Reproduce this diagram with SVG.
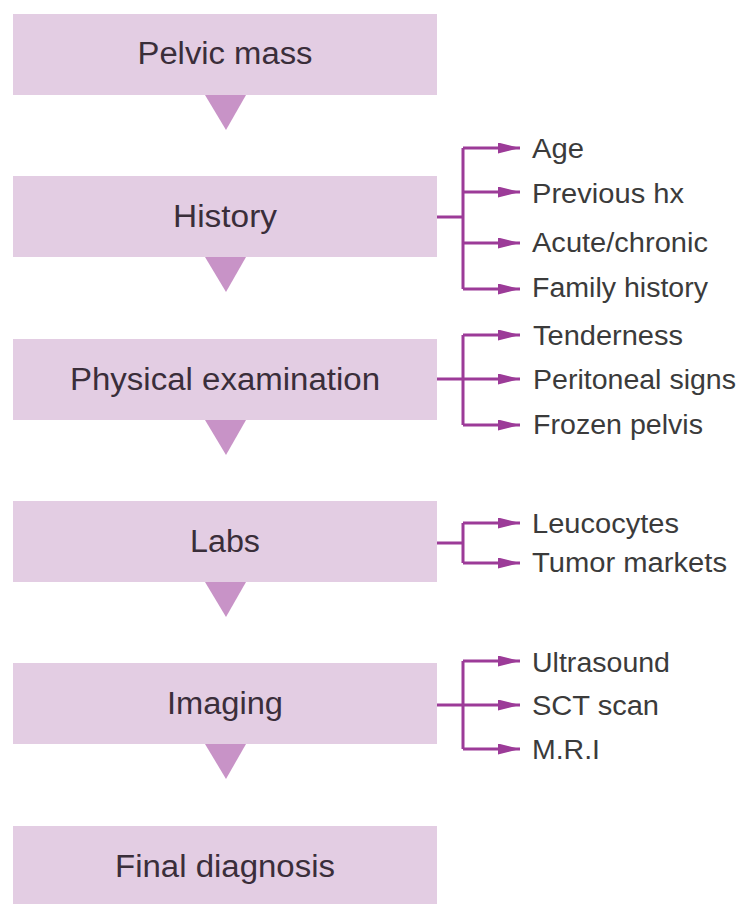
<svg xmlns="http://www.w3.org/2000/svg" width="743" height="904" viewBox="0 0 743 904">
<defs>
<style>
.box{fill:#e3cde3}
.tri{fill:#c893c7}
.main{font-family:"Liberation Sans",Arial,sans-serif;font-size:31px;fill:#3a2e3a;text-anchor:middle}
.lbl{font-family:"Liberation Sans",Arial,sans-serif;font-size:27px;fill:#3b3b3b}
.conn{fill:none;stroke:#9c3b98;stroke-width:3}
</style>
<marker id="ah" viewBox="0 0 22 11" refX="22" refY="5.5" markerWidth="22" markerHeight="11" markerUnits="userSpaceOnUse" orient="auto">
<path d="M0,0 L22,5.5 L0,11 Z" fill="#9c3b98"/>
</marker>
</defs>
<rect width="743" height="904" fill="#ffffff"/>
<g id="pelvic-mass">
<rect class="box" x="13" y="14" width="424" height="81"/>
<text class="main" x="225" y="64" textLength="175" lengthAdjust="spacingAndGlyphs">Pelvic mass</text>
<polygon class="tri" points="205,95 246,95 226,130"/>
</g>
<g id="history">
<rect class="box" x="13" y="176" width="424" height="81"/>
<text class="main" x="225" y="227" textLength="104" lengthAdjust="spacingAndGlyphs">History</text>
<polygon class="tri" points="205,257 246,257 226,292"/>
</g>
<g id="physical-examination">
<rect class="box" x="13" y="339" width="424" height="81"/>
<text class="main" x="225" y="390" textLength="310" lengthAdjust="spacingAndGlyphs">Physical examination</text>
<polygon class="tri" points="205,420 246,420 226,455"/>
</g>
<g id="labs">
<rect class="box" x="13" y="501" width="424" height="81"/>
<text class="main" x="225" y="552" textLength="70" lengthAdjust="spacingAndGlyphs">Labs</text>
<polygon class="tri" points="205,582 246,582 226,617"/>
</g>
<g id="imaging">
<rect class="box" x="13" y="663" width="424" height="81"/>
<text class="main" x="225" y="714" textLength="116" lengthAdjust="spacingAndGlyphs">Imaging</text>
<polygon class="tri" points="205,744 246,744 226,779"/>
</g>
<g id="final-diagnosis">
<rect class="box" x="13" y="826" width="424" height="81"/>
<text class="main" x="225" y="877" textLength="220" lengthAdjust="spacingAndGlyphs">Final diagnosis</text>
</g>
<g id="connectors">
<path class="conn" d="M437,217 H463 M463,148 V289"/>
<path class="conn" marker-end="url(#ah)" d="M463,148 H520"/>
<path class="conn" marker-end="url(#ah)" d="M463,192 H520"/>
<path class="conn" marker-end="url(#ah)" d="M463,243 H520"/>
<path class="conn" marker-end="url(#ah)" d="M463,289 H520"/>
<path class="conn" d="M437,379 H463 M463,335 V425"/>
<path class="conn" marker-end="url(#ah)" d="M463,335 H520"/>
<path class="conn" marker-end="url(#ah)" d="M463,379 H520"/>
<path class="conn" marker-end="url(#ah)" d="M463,425 H520"/>
<path class="conn" d="M437,543 H463 M463,523 V563"/>
<path class="conn" marker-end="url(#ah)" d="M463,523 H520"/>
<path class="conn" marker-end="url(#ah)" d="M463,563 H520"/>
<path class="conn" d="M437,705 H463 M463,661 V749"/>
<path class="conn" marker-end="url(#ah)" d="M463,661 H520"/>
<path class="conn" marker-end="url(#ah)" d="M463,705 H520"/>
<path class="conn" marker-end="url(#ah)" d="M463,749 H520"/>
</g>
<g id="history-items">
<text class="lbl" x="532" y="158" textLength="52" lengthAdjust="spacingAndGlyphs">Age</text>
<text class="lbl" x="532" y="203" textLength="152" lengthAdjust="spacingAndGlyphs">Previous hx</text>
<text class="lbl" x="532" y="252" textLength="176" lengthAdjust="spacingAndGlyphs">Acute/chronic</text>
<text class="lbl" x="532" y="297" textLength="176" lengthAdjust="spacingAndGlyphs">Family history</text>
</g>
<g id="exam-items">
<text class="lbl" x="533" y="345" textLength="150" lengthAdjust="spacingAndGlyphs">Tenderness</text>
<text class="lbl" x="533" y="389" textLength="203" lengthAdjust="spacingAndGlyphs">Peritoneal signs</text>
<text class="lbl" x="533" y="434" textLength="170" lengthAdjust="spacingAndGlyphs">Frozen pelvis</text>
</g>
<g id="labs-items">
<text class="lbl" x="532" y="533" textLength="147" lengthAdjust="spacingAndGlyphs">Leucocytes</text>
<text class="lbl" x="532" y="572" textLength="195" lengthAdjust="spacingAndGlyphs">Tumor markets</text>
</g>
<g id="imaging-items">
<text class="lbl" x="532" y="672" textLength="138" lengthAdjust="spacingAndGlyphs">Ultrasound</text>
<text class="lbl" x="532" y="715" textLength="127" lengthAdjust="spacingAndGlyphs">SCT scan</text>
<text class="lbl" x="532" y="759" textLength="68" lengthAdjust="spacingAndGlyphs">M.R.I</text>
</g>
</svg>
